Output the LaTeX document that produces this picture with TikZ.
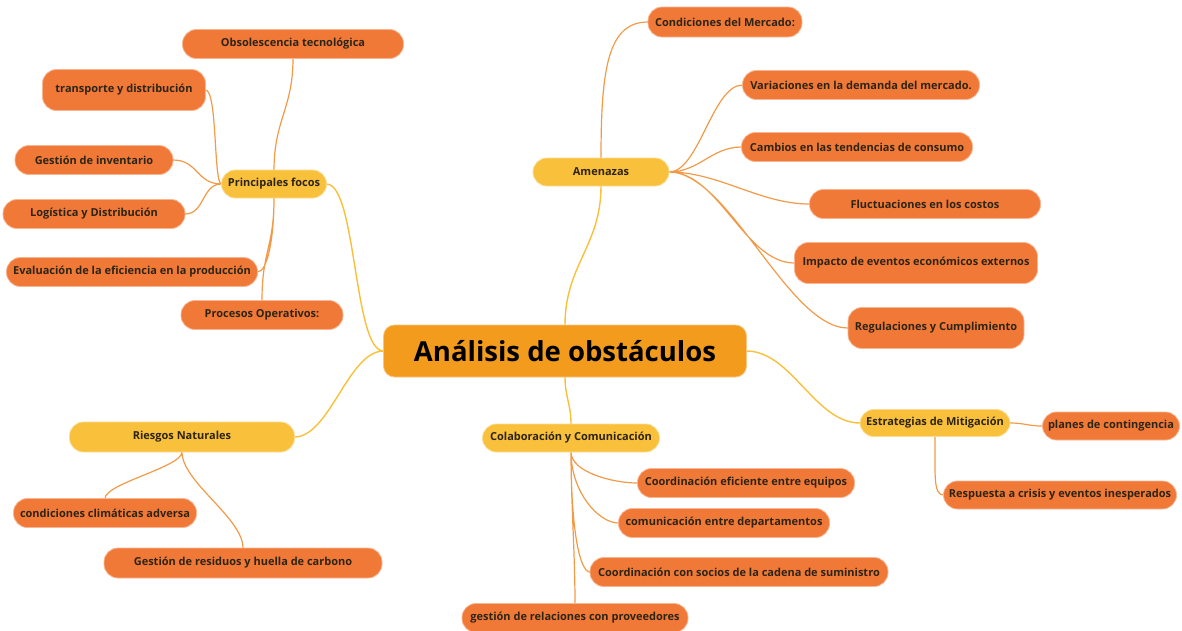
\documentclass[tikz,border=0pt]{standalone}
\usepackage{fontspec}
\setmainfont{Open Sans}
\usepackage{tikz}
\usetikzlibrary{backgrounds}
\definecolor{mainc}{HTML}{F29B1C}
\definecolor{subc}{HTML}{F8C03B}
\definecolor{leafc}{HTML}{F07938}
\definecolor{txtc}{HTML}{2E2414}
\definecolor{linkc}{HTML}{F39A48}

\begin{document}
\begin{tikzpicture}[x=1pt, y=-1pt,
		sz/.style 2 args={minimum width=#1pt, minimum height=#2pt},
		base/.style={inner sep=0pt, outer sep=0pt, line width=0.8pt, text=txtc, font=\bfseries\fontsize{11}{13}\selectfont},
		leaf/.style={base, fill=leafc, draw=leafc!55!white, rounded corners=14pt},
		sub/.style={base, fill=subc, draw=subc!55!white, rounded corners=14pt},
		root/.style={base, fill=mainc, draw=mainc!55!white, rounded corners=11pt, text=black, font=\bfseries\fontsize{27.5}{31}\selectfont},
		trunk/.style={draw=subc, line width=1.4pt},
		twig/.style={draw=linkc, line width=1.2pt}]
		\useasboundingbox (0,0) rectangle (1182,630);
		\node[root, sz={363}{52}] (main) at (565,351) {Análisis de obstáculos};
		\begin{scope}
			\node[sub, sz={105}{28}] (focos) at (274,184) {Principales focos};
			\node[leaf, sz={221}{29}] (obso) at (293,44) {Obsolescencia tecnológica};
			\node[leaf, sz={163}{41}] (transp) at (124,90) {transporte y distribución};
			\node[leaf, sz={158}{29}] (inv) at (94,160) {Gestión de inventario};
			\node[leaf, sz={182}{29}] (logi) at (94,214) {Logística y Distribución};
			\node[leaf, sz={251}{29}] (eval) at (132,272) {Evaluación de la eficiencia en la producción};
			\node[leaf, sz={162}{29}] (proc) at (262,315) {Procesos Operativos:};
		\end{scope}
		\begin{scope}
			\node[sub, sz={136}{28}] (amen) at (601,172) {Amenazas};
			\node[leaf, sz={154}{30}] (cond) at (725,22) {Condiciones del Mercado:};
			\node[leaf, sz={237}{29}] (var) at (861,85) {Variaciones en la demanda del mercado.};
			\node[leaf, sz={231}{29}] (camb) at (857,147) {Cambios en las tendencias de consumo};
			\node[leaf, sz={231}{29}] (fluc) at (925,204) {Fluctuaciones en los costos};
			\node[leaf, sz={243}{41}] (imp) at (916,263) {Impacto de eventos económicos externos};
			\node[leaf, sz={176}{41}] (reg) at (936,328) {Regulaciones y Cumplimiento};
		\end{scope}
		\begin{scope}
			\node[sub, sz={150}{27}] (estr) at (935,423) {Estrategias de Mitigación};
			\node[leaf, sz={137}{28}] (plan) at (1111,426) {planes de contingencia};
			\node[leaf, sz={233}{28}] (resp) at (1060,495) {Respuesta a crisis y eventos inesperados};
		\end{scope}
		\begin{scope}
			\node[sub, sz={225}{30}] (ries) at (182,437) {Riesgos Naturales};
			\node[leaf, sz={183}{29}] (clim) at (105,513) {condiciones climáticas adversa};
			\node[leaf, sz={278}{30}] (resid) at (243,563) {Gestión de residuos y huella de carbono};
		\end{scope}
		\begin{scope}
			\node[sub, sz={177}{28}] (colab) at (571,438) {Colaboración y Comunicación};
			\node[leaf, sz={217}{29}] (coord) at (746,483) {Coordinación eficiente entre equipos};
			\node[leaf, sz={211}{29}] (com) at (724,523) {comunicación entre departamentos};
			\node[leaf, sz={298}{29}] (socios) at (739,572) {Coordinación con socios de la cadena de suministro};
			\node[leaf, sz={226}{29}] (prov) at (575,618) {gestión de relaciones con proveedores};
		\end{scope}
		\begin{scope}[on background layer]
			\path[trunk] (main.west) .. controls +(-30,0) and +(30,0) .. (focos.east)
				(main.west) .. controls +(-35,0) and +(35,0) .. (ries.east)
				(main.north) .. controls +(0,-60) and +(0,60) .. (amen.south)
				(main.south) .. controls +(0,20) and +(0,-20) .. (colab.north)
				(main.east) .. controls +(45,0) and +(-45,0) .. (estr.west);
			\path[twig] (focos.north) .. controls +(0,-50) and +(0,50) .. (obso.south)
				(focos.west) .. controls +(-8,0) and +(12,0) .. (transp.east)
				(focos.west) .. controls +(-25,0) and +(25,0) .. (inv.east)
				(focos.west) .. controls +(-20,0) and +(20,0) .. (logi.east)
				(focos.south) .. controls +(0,40) and +(10,0) .. (eval.east)
				(focos.south) .. controls +(0,50) and +(0,-50) .. (proc.north);
			\path[twig] (amen.north) .. controls +(0,-90) and +(-40,0) .. (cond.west)
				(amen.east) .. controls +(30,0) and +(-30,0) .. (var.west)
				(amen.east) .. controls +(30,0) and +(-30,0) .. (camb.west)
				(amen.east) .. controls +(50,0) and +(-50,0) .. (fluc.west)
				(amen.east) .. controls +(50,0) and +(-50,0) .. (imp.west)
				(amen.east) .. controls +(60,0) and +(-60,0) .. (reg.west);
			\path[twig] (estr.east) .. controls +(15,0) and +(-15,0) .. (plan.west)
				(estr.south) .. controls +(0,40) and +(-10,0) .. (resp.west);
			\path[twig] (ries.south) .. controls +(0,15) and +(0,-15) .. (clim.north)
				(ries.south) .. controls +(0,30) and +(0,-30) .. (resid.north);
			\path[twig] (colab.south) .. controls +(0,20) and +(-25,0) .. (coord.west)
				(colab.south) .. controls +(0,40) and +(-20,0) .. (com.west)
				(colab.south) .. controls +(0,80) and +(-10,0) .. (socios.west)
				(colab.south) .. controls +(0,50) and +(0,-50) .. (prov.north);
		\end{scope}
	\end{tikzpicture}
\end{document}
